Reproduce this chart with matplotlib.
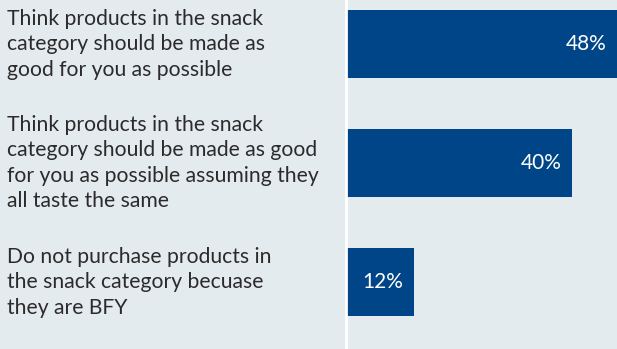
import matplotlib.pyplot as plt

labels = [
    "Think products in the snack\ncategory should be made as\ngood for you as possible",
    "Think products in the snack\ncategory should be made as good\nfor you as possible assuming they\nall taste the same",
    "Do not purchase products in\nthe snack category becuase\nthey are BFY",
]
values = [48, 40, 12]

bg = "#e4ebee"
bar_color = "#004587"

plt.rcParams["font.family"] = ["Lato", "DejaVu Sans"]

fig = plt.figure(figsize=(6.17, 3.49), dpi=100)
fig.patch.set_facecolor(bg)

W, H = 617, 349
ax = fig.add_axes([346 / W, 0, 1 - 346 / W, 1])
ax.set_facecolor(bg)

ypos = list(range(len(values)))
ax.barh(ypos, values, height=0.57, color=bar_color)
ax.set_xlim(0, 48)
ax.set_ylim(2.56, -0.37)

for y, v in zip(ypos, values):
    ax.text(v - 1.8, y, f"{v}%", color="white", fontsize=15,
            ha="right", va="center")

ax.set_xticks([])
ax.set_yticks([])
for s in ["top", "right", "bottom"]:
    ax.spines[s].set_visible(False)
ax.spines["left"].set_color("white")
ax.spines["left"].set_linewidth(2)

# category labels on the left, centred on each bar
to_fig = lambda y: ax.transData.transform((0, y))[1] / H
for y, lab in zip(ypos, labels):
    fig.text(7 / W, to_fig(y), lab, ha="left", va="center",
             fontsize=15.2, color="#2b2b2b", linespacing=1.34)

fig.savefig("out.png", dpi=100, facecolor=bg)
